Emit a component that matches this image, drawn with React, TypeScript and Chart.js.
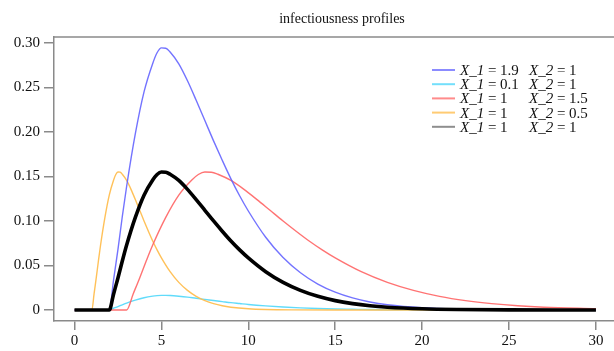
import React, { useEffect, useRef } from "react";
import { Chart, registerables } from "chart.js";

Chart.register(...registerables);

// Black profile (X_1 = 1, X_2 = 1)
const blackX = [0, 1, 2, 2.25, 2.5, 2.75, 3, 3.5, 4, 4.5, 4.75, 5, 5.25, 5.5, 6, 6.5, 7, 7.5, 8, 8.5, 9, 9.5, 10, 11, 12, 13, 14, 15, 16, 17, 18, 20, 22, 25, 30];
const blackY = [0, 0, 0, 0.018, 0.036, 0.055, 0.073, 0.104, 0.129, 0.146, 0.1522, 0.155, 0.1548, 0.1525, 0.1455, 0.1355, 0.124, 0.112, 0.1, 0.0885, 0.0775, 0.0675, 0.0585, 0.043, 0.031, 0.022, 0.0153, 0.0105, 0.0071, 0.0047, 0.0031, 0.0013, 0.0005, 0.0001, 0];

// Blue profile (X_1 = 1.9, X_2 = 1)
const blueX = [0, 1, 2, 2.25, 2.5, 2.75, 3, 3.5, 4, 4.5, 4.75, 5, 5.25, 5.5, 6, 6.5, 7, 7.5, 8, 8.5, 9, 9.5, 10, 11, 12, 13, 14, 15, 16, 17, 18, 20, 22, 25, 30];
const blueY = [0, 0, 0, 0.034, 0.068, 0.105, 0.139, 0.198, 0.245, 0.277, 0.289, 0.2945, 0.2941, 0.2898, 0.2765, 0.2575, 0.2356, 0.2128, 0.19, 0.1682, 0.1473, 0.1283, 0.1112, 0.0817, 0.0589, 0.0418, 0.0291, 0.02, 0.0135, 0.0089, 0.0059, 0.0025, 0.001, 0.0002, 0];

// Cyan profile (X_1 = 0.1, X_2 = 1)
const cyanX = [0, 1, 2, 2.25, 2.5, 2.75, 3, 3.5, 4, 4.5, 4.75, 5, 5.25, 5.5, 6, 6.5, 7, 7.5, 8, 8.5, 9, 9.5, 10, 11, 12, 13, 14, 15, 16, 17, 18, 20, 22, 25, 30];
const cyanY = [0, 0, 0, 0.0019, 0.0038, 0.0058, 0.0077, 0.011, 0.0137, 0.0155, 0.0161, 0.0164, 0.0164, 0.0162, 0.0154, 0.0144, 0.0131, 0.0119, 0.0106, 0.0094, 0.0082, 0.0072, 0.0062, 0.0046, 0.0033, 0.0023, 0.0016, 0.0011, 0.0008, 0.0005, 0.0003, 0.0001, 0, 0, 0];

// Red profile (X_1 = 1, X_2 = 1.5)
const redX = [0, 1.5, 3, 3.375, 3.75, 4.125, 4.5, 5.25, 6, 6.75, 7.125, 7.5, 7.875, 8.25, 9, 9.75, 10.5, 11.25, 12, 12.75, 13.5, 14.25, 15, 16.5, 18, 19.5, 21, 22.5, 24, 25.5, 27, 30];
const redY = [0, 0, 0, 0.018, 0.036, 0.055, 0.073, 0.104, 0.129, 0.146, 0.1522, 0.155, 0.1548, 0.1525, 0.1455, 0.1355, 0.124, 0.112, 0.1, 0.0885, 0.0775, 0.0675, 0.0585, 0.043, 0.031, 0.022, 0.0153, 0.0105, 0.0071, 0.0047, 0.0031, 0.0013];

// Orange profile (X_1 = 1, X_2 = 0.5)
const orangeX = [0, 0.5, 1, 1.125, 1.25, 1.375, 1.5, 1.75, 2, 2.25, 2.375, 2.5, 2.625, 2.75, 3, 3.25, 3.5, 3.75, 4, 4.25, 4.5, 4.75, 5, 5.5, 6, 6.5, 7, 7.5, 8, 8.5, 9, 10, 11, 12.5, 15, 30];
const orangeY = [0, 0, 0, 0.018, 0.036, 0.055, 0.073, 0.104, 0.129, 0.146, 0.1522, 0.155, 0.1548, 0.1525, 0.1455, 0.1355, 0.124, 0.112, 0.1, 0.0885, 0.0775, 0.0675, 0.0585, 0.043, 0.031, 0.022, 0.0153, 0.0105, 0.0071, 0.0047, 0.0031, 0.0013, 0.0005, 0.0001, 0, 0];

const xTicks = [0, 5, 10, 15, 20, 25, 30];
const yTicks = [0, 0.05, 0.1, 0.15, 0.2, 0.25, 0.3];
const yTickLabels = ["0", "0.05", "0.10", "0.15", "0.20", "0.25", "0.30"];

const titleText = "infectiousness profiles";

const legendRows = [
  { a: "X_1", av: " = 1.9", b: "X_2", bv: " = 1", color: "rgba(110,110,255,0.8)" },
  { a: "X_1", av: " = 0.1", b: "X_2", bv: " = 1", color: "rgba(80,215,250,0.8)" },
  { a: "X_1", av: " = 1", b: "X_2", bv: " = 1.5", color: "rgba(255,110,110,0.8)" },
  { a: "X_1", av: " = 1", b: "X_2", bv: " = 0.5", color: "rgba(255,190,80,0.8)" },
  { a: "X_1", av: " = 1", b: "X_2", bv: " = 1", color: "rgba(130,130,130,0.9)" },
];

const SERIF = "'Liberation Serif', 'DejaVu Serif', serif";

const zip = (xs: number[], ys: number[]) => xs.map((x, i) => ({ x, y: ys[i] }));

const decorPlugin = {
  id: "decor",
  afterDraw(chart: any) {
    const ctx = chart.ctx;
    const { left, top, right } = chart.chartArea;
    ctx.save();
    ctx.strokeStyle = "#8a8a8a";
    ctx.lineWidth = 1.5;
    ctx.beginPath();
    ctx.moveTo(left - 0.75, top);
    ctx.lineTo(right, top);
    ctx.stroke();
    ctx.fillStyle = "#111";
    ctx.font = `14px ${SERIF}`;
    ctx.textAlign = "center";
    ctx.textBaseline = "alphabetic";
    ctx.fillText(titleText, 342, 23);
    const lx0 = 432, lx1 = 455, tx = 460, tx2 = 529;
    let y = 70;
    ctx.textBaseline = "middle";
    ctx.textAlign = "left";
    legendRows.forEach((r) => {
      ctx.strokeStyle = r.color;
      ctx.lineWidth = 2;
      ctx.beginPath();
      ctx.moveTo(lx0, y);
      ctx.lineTo(lx1, y);
      ctx.stroke();
      ctx.fillStyle = "#111";
      ctx.font = `italic 15px ${SERIF}`;
      ctx.fillText(r.a, tx, y + 1);
      let w = ctx.measureText(r.a).width;
      ctx.font = `15px ${SERIF}`;
      ctx.fillText(r.av, tx + w, y + 1);
      ctx.font = `italic 15px ${SERIF}`;
      ctx.fillText(r.b, tx2, y + 1);
      w = ctx.measureText(r.b).width;
      ctx.font = `15px ${SERIF}`;
      ctx.fillText(r.bv, tx2 + w, y + 1);
      y += 14.2;
    });
    ctx.restore();
  },
};

export default function App() {
  const ref = useRef<HTMLCanvasElement>(null);
  useEffect(() => {
    if (!ref.current) return;
    const mk = (label: string, xs: number[], ys: number[], color: string, width: number) => ({
      label,
      data: zip(xs, ys),
      borderColor: color,
      borderWidth: width,
      pointRadius: 0,
      fill: false,
      cubicInterpolationMode: "monotone" as const,
    });
    // first dataset is drawn on top
    const chart = new Chart(ref.current, {
      type: "line",
      data: {
        datasets: [
          mk("X_1 = 1  X_2 = 1", blackX, blackY, "#000", 3.6),
          mk("X_1 = 1.9  X_2 = 1", blueX, blueY, "rgba(100,100,255,0.9)", 1.4),
          mk("X_1 = 1  X_2 = 1.5", redX, redY, "rgba(255,100,100,0.9)", 1.4),
          mk("X_1 = 1  X_2 = 0.5", orangeX, orangeY, "rgba(255,190,80,0.95)", 1.4),
          mk("X_1 = 0.1  X_2 = 1", cyanX, cyanY, "rgba(80,215,250,0.9)", 1.4),
        ],
      },
      options: {
        responsive: false,
        animation: false,
        layout: { padding: { top: 37, right: 0, left: 0, bottom: 0 } },
        plugins: {
          legend: { display: false },
          title: { display: false },
          tooltip: { enabled: false },
        },
        scales: {
          x: {
            type: "linear",
            min: -1.18,
            max: 31.04,
            afterFit: (s: any) => { s.height = 30; },
            afterBuildTicks: (s: any) => { s.ticks = xTicks.map((v) => ({ value: v })); },
            grid: { drawOnChartArea: false, drawTicks: true, tickLength: 9, color: "#8a8a8a", lineWidth: 1.5 },
            border: { display: true, color: "#8a8a8a", width: 1.5 },
            ticks: {
              color: "#111",
              font: { family: SERIF, size: 15 },
              padding: 2,
              maxRotation: 0,
              callback: (v: any) => String(v),
            },
          },
          y: {
            type: "linear",
            min: -0.0124,
            max: 0.3067,
            afterFit: (s: any) => { s.width = 54; },
            afterBuildTicks: (s: any) => { s.ticks = yTicks.map((v) => ({ value: v })); },
            grid: { drawOnChartArea: false, drawTicks: true, tickLength: 10, color: "#8a8a8a", lineWidth: 1.5 },
            border: { display: true, color: "#8a8a8a", width: 1.5 },
            ticks: {
              color: "#111",
              font: { family: SERIF, size: 15 },
              padding: 4,
              callback: (v: any) => {
                const i = yTicks.findIndex((t) => Math.abs(t - v) < 1e-9);
                return i >= 0 ? yTickLabels[i] : "";
              },
            },
          },
        },
      },
      plugins: [decorPlugin],
    });
    return () => chart.destroy();
  }, []);
  return (
    <div style={{ position: "fixed", left: 0, top: 0, width: 614, height: 351, background: "#fff" }}>
      <canvas ref={ref} width={614} height={351} style={{ width: 614, height: 351 }} />
    </div>
  );
}
